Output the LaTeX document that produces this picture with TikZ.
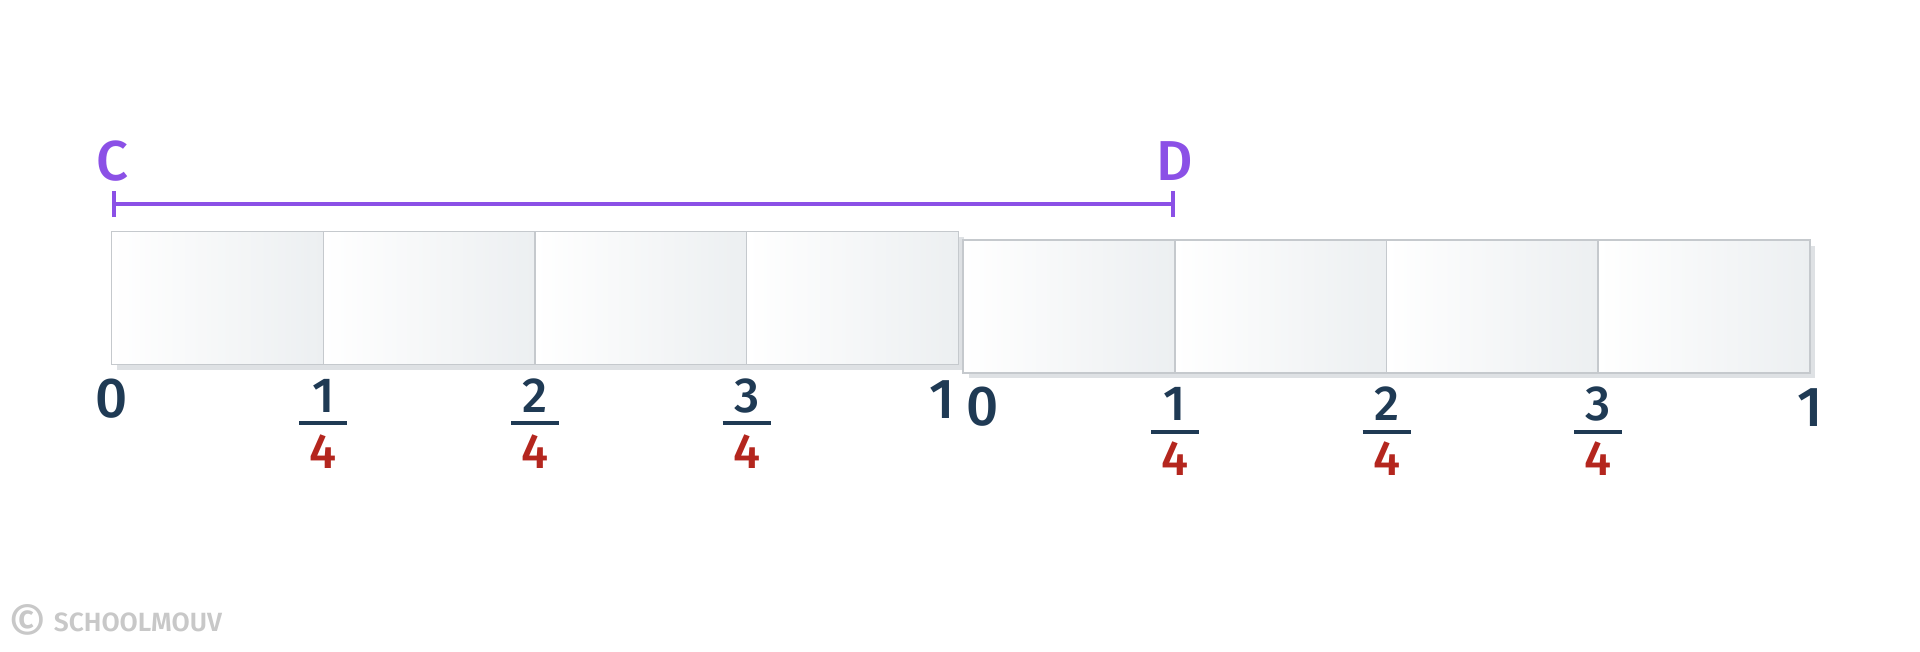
\documentclass[tikz,border=0pt]{standalone}
\usepackage{fontspec}
\setmainfont{Fira Sans}[UprightFont=* Medium, BoldFont=* SemiBold]
\usetikzlibrary{positioning,arrows.meta}

\definecolor{navy}{RGB}{31,58,84}
\definecolor{fracred}{RGB}{180,38,30}
\definecolor{segpurple}{RGB}{139,80,230}
\definecolor{cellline}{RGB}{197,201,205}
\definecolor{cellgray}{RGB}{236,239,241}
\definecolor{shadowgray}{RGB}{222,225,228}
\definecolor{markgray}{RGB}{200,200,200}

\tikzset{
  cell/.style={draw=cellline, line width=0.45pt, left color=white, right color=cellgray,
    minimum width=2.1165cm, minimum height=1.326cm, inner sep=0pt},
  whole/.style={text=navy, font=\fontsize{16}{16}\selectfont, inner sep=0pt},
  num/.style={text=navy, font=\fontsize{14}{14}\selectfont, inner sep=0pt},
  den/.style={text=fracred, font=\fontsize{14}{14}\selectfont, inner sep=0pt},
  fracbar/.style={navy, line width=1pt},
  seglabel/.style={text=segpurple, font=\fontsize{16}{16}\selectfont, inner sep=0pt},
  segline/.style={segpurple, line width=1.2pt, {Bar[width=7.4pt]}-{Bar[width=7.4pt]}},
  brand/.style={text=markgray, font=\bfseries\fontsize{7.5}{7.5}\selectfont, inner sep=0pt}
}

\begin{document}
\begin{tikzpicture}[x=0.01cm, y=-0.01cm]

    \useasboundingbox (0,0) rectangle (1920,651);

    % segment CD
    \coordinate (c) at (112,204);
    \coordinate (d) at (1175,204);
    \draw[segline] (c) -- (d);
    \node[seglabel] (labc) at (112,161) {C};
    \node[seglabel] (labd) at (1175,161) {D};

    % first strip
    \fill[shadowgray] (117,237) rectangle (964,370);
    \node[cell] (a1) at (217.5,298) {};
    \node[cell] (a2) at (429.2,298) {};
    \node[cell] (a3) at (640.8,298) {};
    \node[cell] (a4) at (852.5,298) {};

    % second strip
    \fill[shadowgray] (969,246) rectangle (1815,378);
    \node[cell] (b1) at (1069.1,306.6) {};
    \node[cell] (b2) at (1280.8,306.6) {};
    \node[cell] (b3) at (1492.4,306.6) {};
    \node[cell] (b4) at (1704.1,306.6) {};

    % labels under the first strip
    \node[whole] (a0) at (112,399) {0};
    \node[num] (an1) at (323.3,396) {1};
    \draw[fracbar] (299.3,423) -- (347.3,423);
    \node[den] (ad1) at (323.3,452) {4};
    \node[num] (an2) at (535,396) {2};
    \draw[fracbar] (511,423) -- (559,423);
    \node[den] (ad2) at (535,452) {4};
    \node[num] (an3) at (746.6,396) {3};
    \draw[fracbar] (722.6,423) -- (770.6,423);
    \node[den] (ad3) at (746.6,452) {4};
    \node[whole] (ae) at (941.7,400) {1};

    % labels under the second strip
    \node[whole] (b0) at (983,407) {0};
    \node[num] (bn1) at (1175,404) {1};
    \draw[fracbar] (1151,432) -- (1199,432);
    \node[den] (bd1) at (1175,459) {4};
    \node[num] (bn2) at (1386.6,404) {2};
    \draw[fracbar] (1362.6,432) -- (1410.6,432);
    \node[den] (bd2) at (1386.6,459) {4};
    \node[num] (bn3) at (1598.2,404) {3};
    \draw[fracbar] (1574.2,432) -- (1622.2,432);
    \node[den] (bd3) at (1598.2,459) {4};
    \node[whole] (be) at (1810,408) {1};

    % watermark
    \node[text=markgray, font=\fontsize{13.5}{13.5}\selectfont, inner sep=0pt] (copy) at (28,622) {©};
    \node[brand, right=1.5pt of copy] (school) {SCHOOLMOUV};

\end{tikzpicture}
\end{document}
